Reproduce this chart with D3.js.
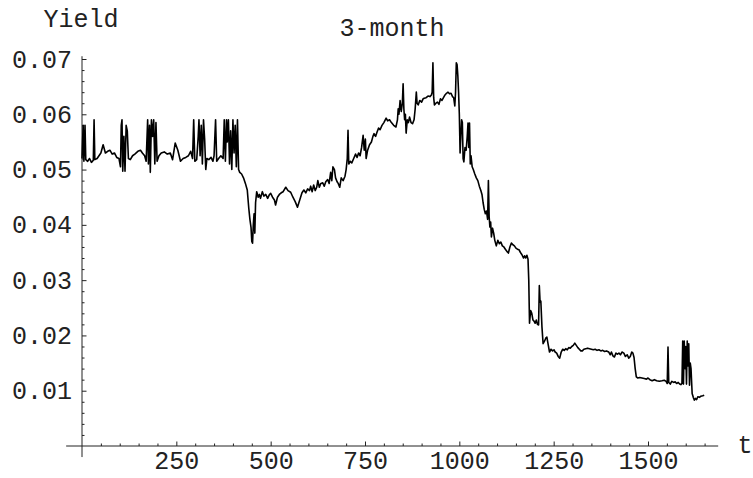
<!DOCTYPE html>
<html>
<head>
<meta charset="utf-8">
<script src="https://cdn.jsdelivr.net/npm/d3@7"></script>
<style>
  body { margin: 0; background: white; }
  text { font-family: "Liberation Mono", "Courier New", monospace; fill: #222; }
</style>
</head>
<body>
<div id="chart"></div>
<script>
// time index (t) and the 3-month yield
const days = [
  0, 3, 5, 8, 10, 15, 20, 25, 30, 32, 34, 40, 45, 50, 56, 62, 68, 74, 80, 86, 92, 98,
  102, 104, 106, 108, 111, 114, 117, 120, 123, 128, 134, 140, 148, 155, 160, 166, 170,
  174, 176, 179, 181, 184, 187, 190, 193, 196, 199, 204, 210, 218, 226, 234, 240, 247,
  254, 261, 268, 275, 282, 288, 293, 296, 299, 304, 308, 310, 313, 316, 319, 322, 325,
  328, 331, 336, 342, 347, 350, 354, 357, 362, 368, 374, 377, 380, 383, 385, 388, 391,
  394, 397, 400, 403, 406, 409, 412, 415, 418, 423, 428, 433, 438, 442, 445, 448, 450,
  452, 454, 456, 458, 460, 463, 467, 470, 473, 478, 482, 487, 492, 497, 500, 505, 510,
  513, 518, 523, 528, 533, 540, 546, 553, 559, 565, 571, 577, 583, 588, 593, 598, 603,
  606, 610, 614, 618, 622, 625, 629, 633, 638, 642, 646, 651, 655, 659, 662, 665, 669,
  672, 676, 679, 683, 687, 692, 697, 700, 703, 705, 707, 711, 715, 720, 725, 729, 733,
  737, 741, 745, 748, 751, 753, 757, 762, 767, 771, 774, 778, 782, 786, 790, 795, 800,
  806, 810, 815, 820, 826, 832, 836, 838, 840, 843, 846, 849, 851, 853, 855, 857, 859,
  862, 865, 868, 872, 876, 880, 883, 886, 888, 891, 895, 900, 904, 907, 912, 917, 922,
  926, 928, 930, 932, 934, 938, 942, 946, 950, 954, 958, 962, 966, 970, 974, 978, 982,
  985, 988, 990, 992, 994, 996, 998, 1000, 1002, 1004, 1006, 1008, 1010, 1012, 1015,
  1018, 1021, 1023, 1025, 1027, 1029, 1031, 1034, 1037, 1041, 1045, 1049, 1053, 1057,
  1060, 1063, 1066, 1069, 1072, 1075, 1077, 1079, 1081, 1083, 1085, 1088, 1091, 1094,
  1098, 1102, 1106, 1110, 1114, 1118, 1122, 1126, 1130, 1134, 1138, 1142, 1146, 1150,
  1154, 1158, 1162, 1166, 1170, 1173, 1176, 1179, 1182, 1184, 1186, 1189, 1192, 1195,
  1198, 1201, 1204, 1207, 1210, 1212, 1214, 1216, 1219, 1222, 1226, 1229, 1232, 1235,
  1239, 1243, 1247, 1251, 1254, 1258, 1262, 1266, 1270, 1274, 1278, 1282, 1286, 1290,
  1294, 1298, 1302, 1306, 1310, 1314, 1318, 1322, 1326, 1330, 1335, 1340, 1345, 1350,
  1355, 1360, 1365, 1370, 1375, 1380, 1385, 1390, 1396, 1400, 1403, 1407, 1411, 1415,
  1419, 1423, 1427, 1431, 1436, 1440, 1445, 1449, 1453, 1457, 1460, 1463, 1466, 1469,
  1473, 1478, 1484, 1490, 1496, 1500, 1505, 1511, 1517, 1523, 1530, 1537, 1543, 1548,
  1551, 1553, 1555, 1559, 1563, 1568, 1572, 1576, 1580, 1584, 1587, 1590, 1592, 1594,
  1596, 1598, 1600, 1602, 1604, 1606, 1608, 1610, 1612, 1614, 1617, 1620, 1623, 1626,
  1629, 1632, 1636, 1640, 1645, 1649
];
const yields = [
  0.0520, 0.0580, 0.0515, 0.0580, 0.0518, 0.0515, 0.0520, 0.0513, 0.0517, 0.0590, 0.0518, 0.0520, 0.0525, 0.0530, 0.0545, 0.0530, 0.0533, 0.0535, 0.0528, 0.0530, 0.0522, 0.0520,
  0.0505, 0.0580, 0.0590, 0.0497, 0.0560, 0.0497, 0.0580, 0.0570, 0.0520, 0.0518, 0.0525, 0.0528, 0.0533, 0.0535, 0.0530, 0.0525, 0.0515,
  0.0590, 0.0510, 0.0580, 0.0495, 0.0590, 0.0560, 0.0590, 0.0510, 0.0585, 0.0515, 0.0525, 0.0530, 0.0532, 0.0528, 0.0530, 0.0518, 0.0548,
  0.0535, 0.0515, 0.0520, 0.0522, 0.0525, 0.0533, 0.0520, 0.0590, 0.0515, 0.0518, 0.0560, 0.0590, 0.0525, 0.0580, 0.0510, 0.0590, 0.0555,
  0.0500, 0.0520, 0.0518, 0.0522, 0.0515, 0.0525, 0.0590, 0.0515, 0.0520, 0.0525, 0.0520, 0.0590, 0.0515, 0.0590, 0.0550, 0.0590, 0.0510,
  0.0570, 0.0500, 0.0590, 0.0530, 0.0580, 0.0505, 0.0590, 0.0500, 0.0495, 0.0492, 0.0485, 0.0475, 0.0463, 0.0430, 0.0410, 0.0395, 0.0370,
  0.0367, 0.0400, 0.0420, 0.0385, 0.0440, 0.0460, 0.0450, 0.0455, 0.0448, 0.0460, 0.0452, 0.0455, 0.0448, 0.0455, 0.0457, 0.0450, 0.0445,
  0.0436, 0.0450, 0.0455, 0.0458, 0.0460, 0.0468, 0.0462, 0.0459, 0.0450, 0.0442, 0.0432, 0.0445, 0.0458, 0.0463, 0.0458, 0.0465, 0.0462,
  0.0470, 0.0460, 0.0472, 0.0462, 0.0468, 0.0480, 0.0468, 0.0475, 0.0476, 0.0470, 0.0478, 0.0482, 0.0475, 0.0495, 0.0480, 0.0505, 0.0500,
  0.0485, 0.0478, 0.0475, 0.0468, 0.0485, 0.0480, 0.0488, 0.0500, 0.0520, 0.0571, 0.0510, 0.0515, 0.0512, 0.0520, 0.0528, 0.0522, 0.0530,
  0.0525, 0.0540, 0.0562, 0.0535, 0.0555, 0.0520, 0.0535, 0.0545, 0.0550, 0.0560, 0.0565, 0.0560, 0.0568, 0.0575, 0.0572, 0.0580, 0.0585,
  0.0593, 0.0588, 0.0590, 0.0585, 0.0580, 0.0577, 0.0590, 0.0610, 0.0600, 0.0625, 0.0605, 0.0620, 0.0655, 0.0610, 0.0590, 0.0600, 0.0566,
  0.0590, 0.0585, 0.0595, 0.0585, 0.0583, 0.0590, 0.0610, 0.0640, 0.0620, 0.0617, 0.0625, 0.0622, 0.0628, 0.0629, 0.0630, 0.0633, 0.0632,
  0.0635, 0.0640, 0.0693, 0.0630, 0.0617, 0.0620, 0.0622, 0.0618, 0.0628, 0.0625, 0.0630, 0.0635, 0.0638, 0.0640, 0.0637, 0.0638, 0.0632,
  0.0630, 0.0615, 0.0640, 0.0693, 0.0690, 0.0670, 0.0640, 0.0600, 0.0530, 0.0560, 0.0590, 0.0585, 0.0520, 0.0514, 0.0540,
  0.0535, 0.0560, 0.0584, 0.0540, 0.0584, 0.0510, 0.0525, 0.0505, 0.0500, 0.0492, 0.0485, 0.0480, 0.0470, 0.0462,
  0.0455, 0.0440, 0.0428, 0.0420, 0.0425, 0.0410, 0.0480, 0.0415, 0.0396, 0.0405, 0.0378, 0.0394, 0.0385, 0.0372,
  0.0362, 0.0372, 0.0366, 0.0369, 0.0362, 0.0360, 0.0356, 0.0352, 0.0349, 0.0360, 0.0367, 0.0364, 0.0362, 0.0358,
  0.0356, 0.0355, 0.0350, 0.0346, 0.0340, 0.0344, 0.0340, 0.0345, 0.0338, 0.0300, 0.0222, 0.0245, 0.0240, 0.0228,
  0.0226, 0.0222, 0.0228, 0.0220, 0.0219, 0.0290, 0.0260, 0.0262, 0.0215, 0.0185, 0.0190, 0.0195, 0.0197, 0.0185,
  0.0170, 0.0175, 0.0172, 0.0174, 0.0170, 0.0168, 0.0162, 0.0159, 0.0170, 0.0175, 0.0173, 0.0176, 0.0174, 0.0178,
  0.0177, 0.0180, 0.0182, 0.0186, 0.0182, 0.0178, 0.0175, 0.0172, 0.0172, 0.0175, 0.0176, 0.0177, 0.0176, 0.0175,
  0.0174, 0.0175, 0.0173, 0.0174, 0.0172, 0.0173, 0.0171, 0.0172, 0.0170, 0.0165, 0.0170, 0.0163, 0.0161, 0.0168,
  0.0166, 0.0168, 0.0165, 0.0170, 0.0168, 0.0162, 0.0165, 0.0159, 0.0162, 0.0170, 0.0168, 0.0160, 0.0140, 0.0125,
  0.0123, 0.0124, 0.0123, 0.0122, 0.0121, 0.0123, 0.0120, 0.0118, 0.0120, 0.0118, 0.0117, 0.0118, 0.0119, 0.0117,
  0.0113, 0.0179, 0.0115, 0.0112, 0.0117, 0.0115, 0.0116, 0.0113, 0.0115, 0.0112, 0.0111, 0.0113, 0.0190, 0.0112,
  0.0190, 0.0140, 0.0180, 0.0112, 0.0190, 0.0145, 0.0185, 0.0110, 0.0150, 0.0140, 0.0095, 0.0088, 0.0083, 0.0086,
  0.0084, 0.0089, 0.0088, 0.0090, 0.0091, 0.0092
];

const xMajor = [250, 500, 750, 1000, 1250, 1500];
const yMajor = [0.01, 0.02, 0.03, 0.04, 0.05, 0.06, 0.07];
const xMinor = d3.range(50, 1651, 50).filter(v => v % 250 !== 0);
const yMinor = d3.range(1, 35).map(i => i * 0.002).filter((v, i) => (i + 1) % 5 !== 0);

const W = 753, H = 478;
const FONT = "'Liberation Mono', 'Courier New', monospace";

const svg = d3.select("#chart")
    .append("svg")
    .attr("width", W)
    .attr("height", H);

const x = d3.scaleLinear().domain([0, 1500]).range([82, 648]);
const y = d3.scaleLinear().domain([0, 0.07]).range([446, 59]);

const data = days.map((t, i) => ({ t: t, v: yields[i] }));

// axes lines, crossing at the origin
svg.append("line")
    .attr("x1", x(-42)).attr("x2", x(1686))
    .attr("y1", y(0)).attr("y2", y(0))
    .attr("stroke", "#222").attr("stroke-width", 1);

svg.append("line")
    .attr("x1", x(0)).attr("x2", x(0))
    .attr("y1", y(-0.002)).attr("y2", y(0.0705))
    .attr("stroke", "#222").attr("stroke-width", 1);

// minor ticks
svg.append("g")
    .attr("transform", `translate(0,${y(0)})`)
    .call(d3.axisBottom(x).tickValues(xMinor).tickSize(-2.5).tickFormat(""))
    .call(g => g.select(".domain").remove())
    .selectAll("line").attr("stroke", "#222");

svg.append("g")
    .attr("transform", `translate(${x(0)},0)`)
    .call(d3.axisLeft(y).tickValues(yMinor).tickSize(-2.5).tickFormat(""))
    .call(g => g.select(".domain").remove())
    .selectAll("line").attr("stroke", "#222");

// major ticks + labels
const xAxis = svg.append("g")
    .attr("transform", `translate(0,${y(0)})`)
    .call(d3.axisBottom(x).tickValues(xMajor).tickSize(-4.5).tickPadding(5).tickFormat(d3.format("d")))
    .call(g => g.select(".domain").remove());
xAxis.selectAll("line").attr("stroke", "#222");
xAxis.selectAll("text")
    .style("font-family", FONT)
    .style("font-size", "25px")
    .attr("fill", "#222");

const yAxis = svg.append("g")
    .attr("transform", `translate(${x(0)},0)`)
    .call(d3.axisLeft(y).tickValues(yMajor).tickSize(-4.5).tickPadding(10).tickFormat(d3.format(".2f")))
    .call(g => g.select(".domain").remove());
yAxis.selectAll("line").attr("stroke", "#222");
yAxis.selectAll("text")
    .style("font-family", FONT)
    .style("font-size", "25px")
    .attr("fill", "#222");

// the series
svg.append("path")
    .datum(data)
    .attr("fill", "none")
    .attr("stroke", "black")
    .attr("stroke-width", 1.6)
    .attr("stroke-linejoin", "round")
    .attr("d", d3.line().x(d => x(d.t)).y(d => y(d.v)));

// labels
svg.append("text")
    .attr("x", 81)
    .attr("y", 27)
    .attr("text-anchor", "middle")
    .style("font-size", "25px")
    .text("Yield");

svg.append("text")
    .attr("x", 392)
    .attr("y", 36)
    .attr("text-anchor", "middle")
    .style("font-size", "25px")
    .text("3-month");

svg.append("text")
    .attr("x", 745)
    .attr("y", 453)
    .attr("text-anchor", "middle")
    .style("font-size", "25px")
    .text("t");
</script>
</body>
</html>
